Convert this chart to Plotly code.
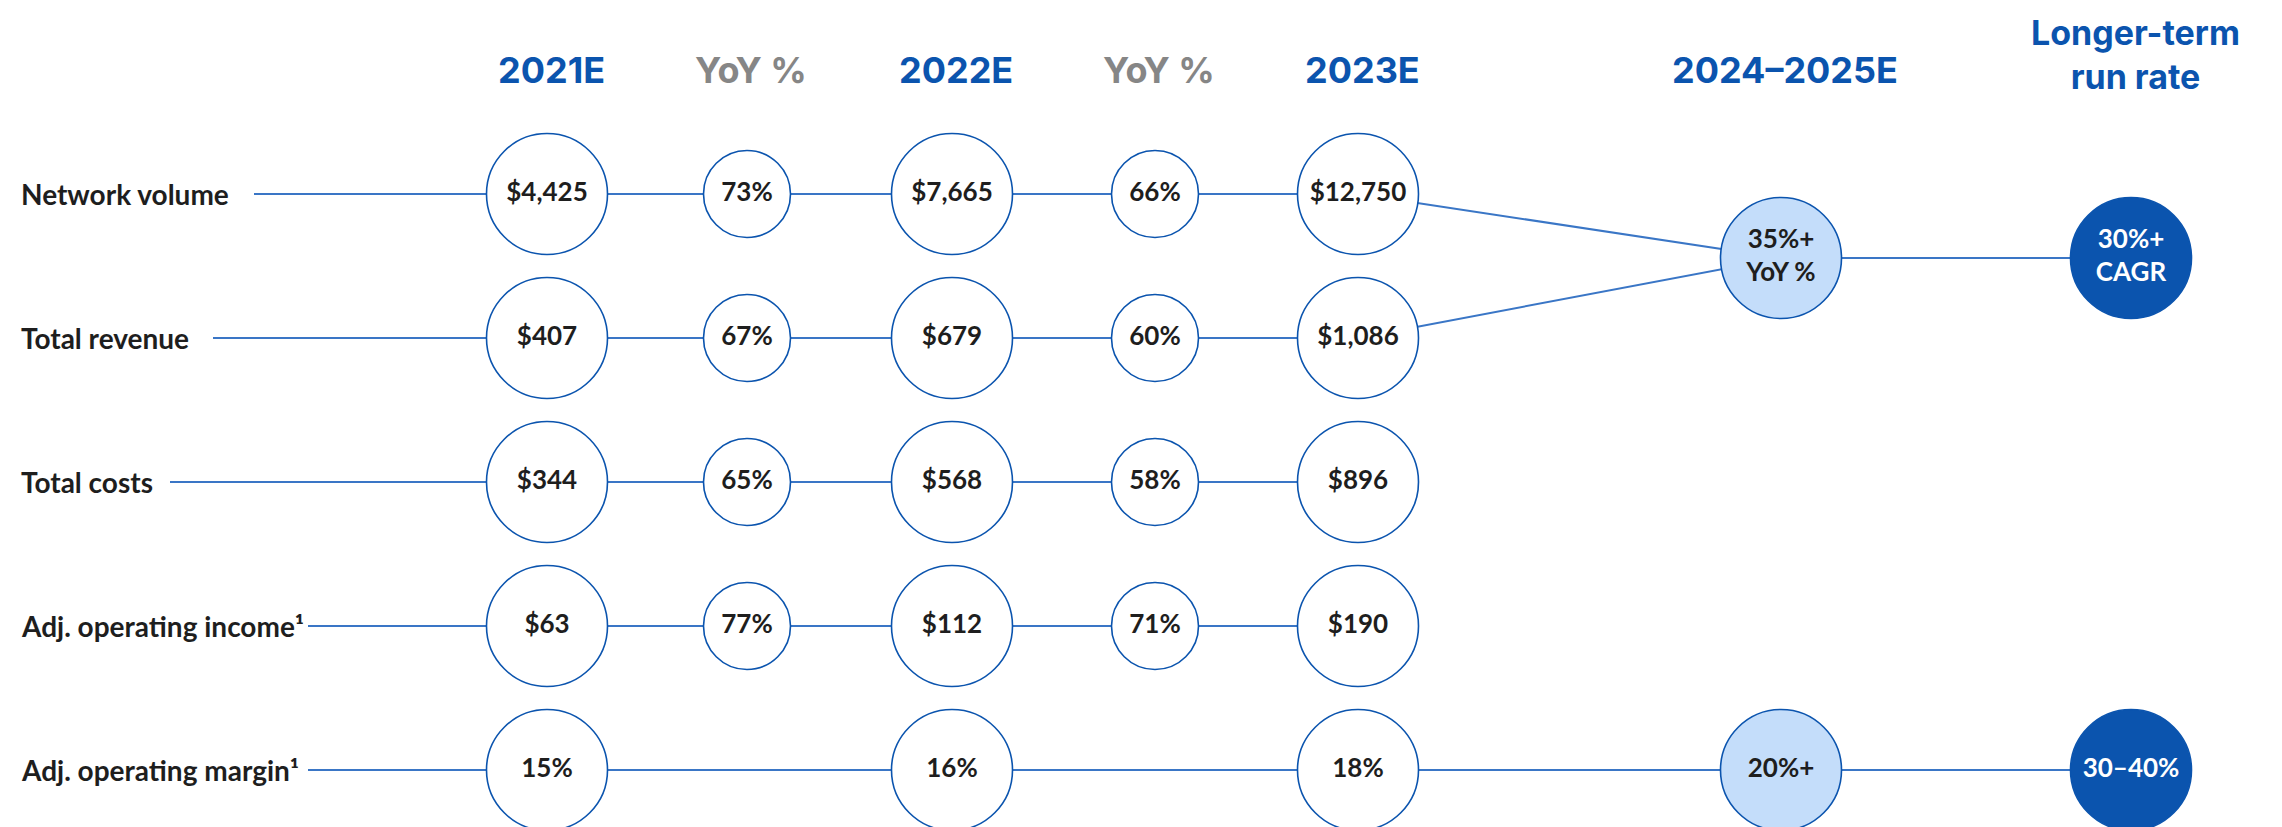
import plotly.graph_objects as go

# ---------------- data ----------------
metrics = ["Network volume", "Total revenue", "Total costs",
           "Adj. operating income¹", "Adj. operating margin¹"]
col_headers = ["2021E", "YoY %", "2022E", "YoY %", "2023E", "2024–2025E", "Longer-term<br>run rate"]
val_2021 = ["$4,425", "$407", "$344", "$63", "15%"]
yoy_2022 = ["73%", "67%", "65%", "77%", None]
val_2022 = ["$7,665", "$679", "$568", "$112", "16%"]
yoy_2023 = ["66%", "60%", "58%", "71%", None]
val_2023 = ["$12,750", "$1,086", "$896", "$190", "18%"]
mid_term = ["35%+<br>YoY %", "20%+"]          # 2024–2025E: volume & revenue, margin
long_term = ["30%+<br>CAGR", "30–40%"]       # longer-term run rate: volume & revenue, margin

# ---------------- layout constants (pixels) ----------------
W, H = 2282, 827
OFF = 8  # page body margin
col_x = [547, 747, 952, 1155, 1358, 1781, 2131]
row_y = [194, 338, 482, 626, 770]
mid_y = 258
line_start = [254, 213, 170, 308, 308]
BIG, SMALL = 121, 87

BLUE = "#0B54AE"
LINE = "#3A76C6"
LIGHT = "#C4DDFA"
TXT = "#1E1E1E"
LABEL_FONT = "Lato"
HEAD_FONT = "Inter"

fig = go.Figure()

# connector lines
for i in range(len(metrics)):
    xs = [line_start[i], col_x[0]]
    if yoy_2022[i] is not None:
        xs += [col_x[1], col_x[2], col_x[3], col_x[4]]
    else:
        xs += [col_x[2], col_x[4]]
    ys = [row_y[i]] * len(xs)
    if i in (0, 1):
        xs.append(col_x[5]); ys.append(mid_y)
    if i == 4:
        xs += [col_x[5], col_x[6]]; ys += [row_y[i], row_y[i]]
    fig.add_trace(go.Scatter(x=xs, y=ys, mode="lines",
                             line=dict(color=LINE, width=2), hoverinfo="skip"))
fig.add_trace(go.Scatter(x=[col_x[5], col_x[6]], y=[mid_y, mid_y], mode="lines",
                         line=dict(color=LINE, width=2), hoverinfo="skip"))


def circles(xs, ys, texts, size, fill, tcolor):
    fig.add_trace(go.Scatter(
        x=xs, y=ys, text=texts, mode="markers+text", textposition="middle center",
        marker=dict(size=size, color=fill, line=dict(color=BLUE, width=1.6)),
        textfont=dict(family=LABEL_FONT, size=26, color=tcolor, weight=700),
        hoverinfo="skip"))


circles([col_x[0]] * 5, row_y, val_2021, BIG, "white", TXT)
circles([col_x[2]] * 5, row_y, val_2022, BIG, "white", TXT)
circles([col_x[4]] * 5, row_y, val_2023, BIG, "white", TXT)
yx = [(row_y[i], v) for i, v in enumerate(yoy_2022) if v is not None]
circles([col_x[1]] * len(yx), [a for a, _ in yx], [b for _, b in yx], SMALL, "white", TXT)
yx = [(row_y[i], v) for i, v in enumerate(yoy_2023) if v is not None]
circles([col_x[3]] * len(yx), [a for a, _ in yx], [b for _, b in yx], SMALL, "white", TXT)
circles([col_x[5]] * 2, [mid_y, row_y[4]], mid_term, BIG, LIGHT, TXT)
circles([col_x[6]] * 2, [mid_y, row_y[4]], long_term, BIG, BLUE, "white")

# row labels
for i, m in enumerate(metrics):
    fig.add_annotation(x=19, y=row_y[i], text=m, xanchor="left", yanchor="middle",
                       showarrow=False,
                       font=dict(family=LABEL_FONT, size=28, color=TXT, weight=700))

# column headers
for j, h in enumerate(col_headers):
    color = "#868686" if h.startswith("YoY") else BLUE
    two = "<br>" in h
    fig.add_annotation(x=col_x[j] + 4, y=54 if two else 70, text=h,
                       showarrow=False, xanchor="center", yanchor="middle",
                       font=dict(family=HEAD_FONT, size=34 if two else 36,
                                 color=color, weight=700))

fig.update_layout(
    width=W, height=H, margin=dict(l=0, r=0, t=0, b=0),
    paper_bgcolor="white", plot_bgcolor="white", showlegend=False,
    xaxis=dict(range=[OFF, W + OFF], visible=False, fixedrange=True),
    yaxis=dict(range=[H + OFF, OFF], visible=False, fixedrange=True),
)
fig.write_html("out.html")
